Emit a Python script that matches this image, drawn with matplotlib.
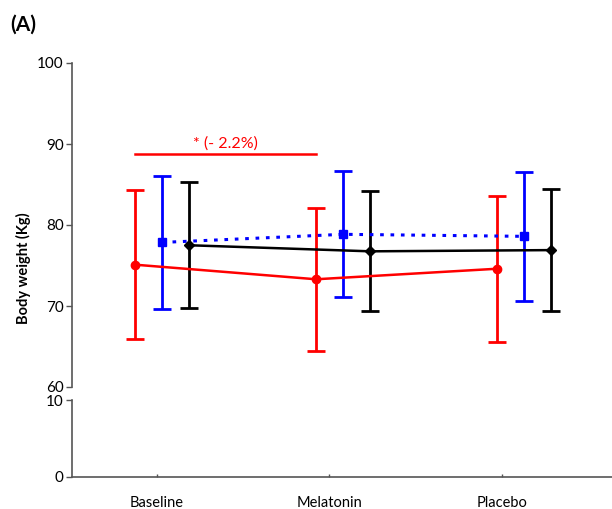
import matplotlib
matplotlib.use("Agg")
import matplotlib.pyplot as plt
import numpy as np

plt.rcParams['font.family'] = ['Lato', 'DejaVu Sans']

categories = ["Baseline", "Melatonin", "Placebo"]

# group centres and per-series offsets along the x axis
group_x = [1.03, 2.08, 3.13]
series_offset = {"red": -0.157, "blue": 0.0, "black": 0.157}

red_mean = [75.1, 73.3, 74.6]
red_sd = [9.2, 8.85, 9.0]
blue_mean = [77.85, 78.85, 78.6]
blue_sd = [8.2, 7.8, 7.95]
black_mean = [77.5, 76.75, 76.9]
black_sd = [7.75, 7.4, 7.55]

sig_y = 88.8
sig_text = "* (- 2.2%)"

W, H = 612, 509
fig = plt.figure(figsize=(W / 100, H / 100), dpi=100)

left = 72 / W
right = 1.0
top_ax = fig.add_axes([left, 1 - 387 / H, right - left, (387 - 63) / H])
bot_ax = fig.add_axes([left, 1 - 477 / H, right - left, (477 - 400) / H])

xlim = (0.507, 3.64)
spine_color = "#555555"

for ax in (top_ax, bot_ax):
    ax.set_xlim(*xlim)
    ax.spines['top'].set_visible(False)
    ax.spines['right'].set_visible(False)
    ax.spines['left'].set_color(spine_color)
    ax.spines['bottom'].set_color(spine_color)
    ax.spines['left'].set_linewidth(1.2)
    ax.spines['bottom'].set_linewidth(1.2)
    ax.tick_params(axis='y', direction='out', length=4, width=1.0,
                   color=spine_color, labelsize=11, pad=2)

top_ax.spines['bottom'].set_visible(False)
top_ax.set_ylim(60, 100)
top_ax.set_yticks([60, 70, 80, 90, 100])
top_ax.set_xticks([])

bot_ax.set_ylim(0, 10)
bot_ax.set_yticks([0, 10])
bot_ax.set_xticks([1, 2, 3])
bot_ax.set_xticklabels(categories)
bot_ax.tick_params(axis='x', direction='in', length=2, width=1.0,
                   color=spine_color, labelsize=10.5, pad=14)

series = [
    ("red", red_mean, red_sd, "o", "-", 6),
    ("blue", blue_mean, blue_sd, "s", ":", 6),
    ("black", black_mean, black_sd, "D", "-", 5),
]
for color, mean, sd, marker, ls, ms in series:
    xs = np.array(group_x) + series_offset[color]
    top_ax.plot(xs, mean, color=color, linestyle=ls, linewidth=2.2 if ls == ":" else 1.8,
                marker=marker, markersize=ms, zorder=3,
                dashes=(1.2, 2.2) if ls == ":" else (None, None))
    top_ax.errorbar(xs, mean, yerr=sd, fmt='none', ecolor=color, elinewidth=2.0,
                    capsize=6.5, capthick=2.0, zorder=2)

# significance bar between baseline and melatonin (red series)
x0 = group_x[0] + series_offset["red"]
x1 = group_x[1] + series_offset["red"]
top_ax.plot([x0, x1], [sig_y, sig_y], color="red", linewidth=1.8, clip_on=False)
top_ax.text((x0 + x1) / 2, sig_y + 0.35, sig_text, color="red", ha="center",
            va="bottom", fontsize=11.5)

top_ax.set_ylabel("Body weight (Kg)", fontsize=10.5, fontweight="bold")
top_ax.yaxis.set_label_coords(-0.075, 0.367)

fig.text(10 / W, 1 - 25 / H, "(A)", fontsize=15, fontweight="bold",
         ha="left", va="center")

fig.savefig("out.png", dpi=100)
